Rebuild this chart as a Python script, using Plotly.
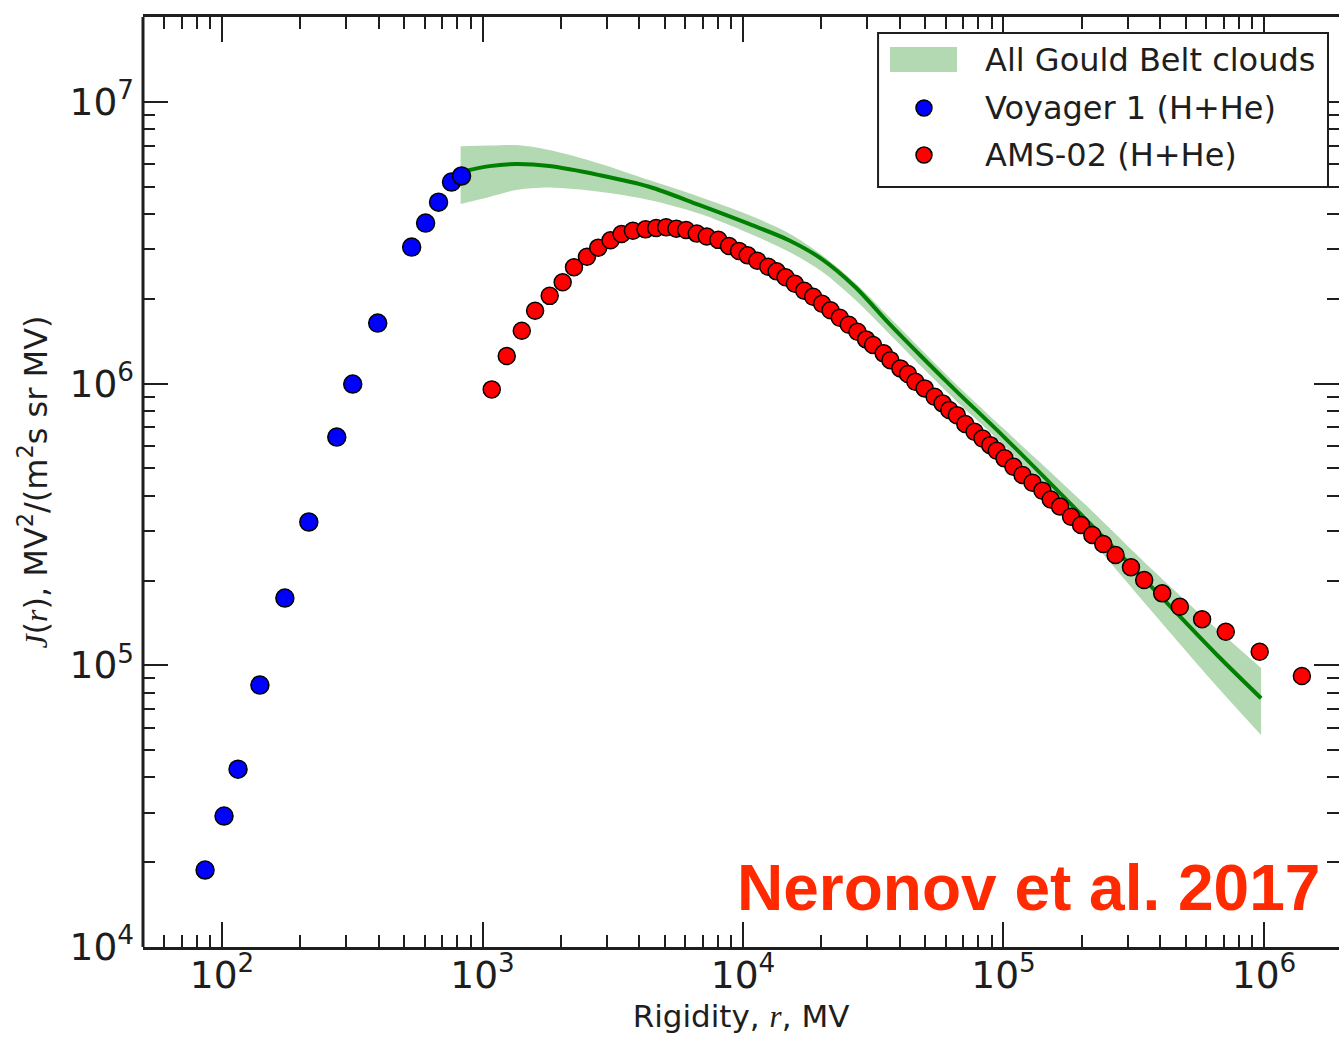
import plotly.graph_objects as go

# Voyager 1 (H+He) local interstellar spectrum
voyager_r = [86.1, 101.8, 115.2, 139.8, 174.3, 215.4, 275.8, 317.6, 396, 534.6,
             604.7, 678.1, 760.5, 830.9]
voyager_j = [1.876e4, 2.917e4, 4.28e4, 8.51e4, 1.733e5, 3.227e5, 6.46e5, 9.97e5,
             1.641e6, 3.054e6, 3.716e6, 4.41e6, 5.195e6, 5.46e6]

# AMS-02 (H+He)
ams_r = [1085, 1239, 1415, 1592, 1811, 2031, 2245, 2518, 2782, 3101, 3418, 3779,
         4224, 4642, 5070, 5551, 6047, 6646, 7259, 8042, 8839, 9654, 10420, 11350,
         12500, 13460, 14570, 15820, 17180, 18590, 20130, 21680, 23530, 25480,
         27510, 29680, 31570, 34680, 36800, 40190, 42980, 45890, 49810, 54400,
         58380, 61940, 66230, 71350, 77440, 83080, 88920, 94250, 100900, 109200,
         118300, 129200, 141100, 151800, 164900, 181700, 198500, 219300, 241600,
         269300, 308600, 346800, 406600, 475300, 578700, 713400, 962700, 1398000]
ams_j = [9.54e5, 1.253e6, 1.541e6, 1.815e6, 2.05e6, 2.29e6, 2.59e6, 2.82e6, 3.04e6,
         3.23e6, 3.40e6, 3.49e6, 3.53e6, 3.57e6, 3.59e6, 3.55e6, 3.51e6, 3.41e6,
         3.33e6, 3.24e6, 3.08e6, 2.96e6, 2.854e6, 2.731e6, 2.60e6, 2.504e6, 2.385e6,
         2.262e6, 2.136e6, 2.035e6, 1.921e6, 1.821e6, 1.714e6, 1.619e6, 1.529e6,
         1.436e6, 1.371e6, 1.281e6, 1.212e6, 1.133e6, 1.082e6, 1.016e6, 9.62e5,
         8.98e5, 8.51e5, 8.06e5, 7.73e5, 7.19e5, 6.75e5, 6.39e5, 6.05e5, 5.78e5,
         5.43e5, 5.07e5, 4.74e5, 4.45e5, 4.17e5, 3.88e5, 3.66e5, 3.37e5, 3.15e5,
         2.90e5, 2.696e5, 2.464e5, 2.228e5, 2.008e5, 1.801e5, 1.614e5, 1.457e5,
         1.316e5, 1.118e5, 9.16e4]

# Spectrum derived from all Gould Belt clouds: best fit and uncertainty band
band_r = [824, 1064, 1346, 1806, 2807, 4364, 6782, 10540, 15000, 20080, 27030,
          36260, 48520, 65280, 101500, 205600, 370100, 666400, 975000]
band_mid = [5.65e6, 5.92e6, 6.02e6, 5.92e6, 5.50e6, 5.00e6, 4.31e6, 3.69e6, 3.23e6,
            2.77e6, 2.20e6, 1.64e6, 1.246e6, 9.49e5, 6.41e5, 3.32e5, 1.90e5,
            1.079e5, 7.64e4]
band_hi = [6.97e6, 7.00e6, 7.03e6, 6.75e6, 6.05e6, 5.28e6, 4.61e6, 3.97e6, 3.42e6,
           2.86e6, 2.27e6, 1.73e6, 1.316e6, 1.002e6, 6.84e5, 3.73e5, 2.20e5,
           1.334e5, 9.78e4]
band_lo = [4.34e6, 4.60e6, 4.87e6, 4.97e6, 4.80e6, 4.49e6, 4.02e6, 3.42e6, 2.94e6,
           2.50e6, 1.98e6, 1.51e6, 1.148e6, 8.75e5, 5.97e5, 2.94e5, 1.56e5,
           8.33e4, 5.66e4]

legend_labels = ["All Gould Belt clouds", "Voyager 1 (H+He)", "AMS-02 (H+He)"]

INK = "#1e1e1e"
FONT = "DejaVu Sans"
MATH = "font-family:'Liberation Serif';font-style:italic"
BAND_FILL = "rgba(0,128,0,0.3)"
VOY_COLOR = "#0000ff"
AMS_COLOR = "#ff0000"

fig = go.Figure()

smooth = dict(shape="spline", smoothing=0.9)
fig.add_trace(go.Scatter(
    x=band_r, y=band_hi, mode="lines", line=dict(width=0, **smooth),
    hoverinfo="skip", name=legend_labels[0] + " (upper)"))
fig.add_trace(go.Scatter(
    x=band_r, y=band_lo, mode="lines", line=dict(width=0, **smooth),
    fill="tonexty", fillcolor=BAND_FILL, name=legend_labels[0]))
fig.add_trace(go.Scatter(
    x=band_r, y=band_mid, mode="lines",
    line=dict(color="#008000", width=4, **smooth), name=legend_labels[0] + " (fit)"))

marker_edge = dict(color="black", width=1.5)
fig.add_trace(go.Scatter(
    x=voyager_r, y=voyager_j, mode="markers", name=legend_labels[1],
    marker=dict(color=VOY_COLOR, size=18, line=marker_edge)))
fig.add_trace(go.Scatter(
    x=ams_r, y=ams_j, mode="markers", name=legend_labels[2],
    marker=dict(color=AMS_COLOR, size=17, line=marker_edge)))

tick_common = dict(
    type="log", dtick=1, exponentformat="power", showgrid=False, zeroline=False,
    ticks="inside", ticklen=25, tickwidth=2, tickcolor=INK,
    tickfont=dict(family=FONT, size=30, color=INK),
    minor=dict(ticks="inside", ticklen=12, tickwidth=2, tickcolor=INK,
               dtick="D1", showgrid=False),
    mirror="ticks",
)

fig.update_xaxes(
    **tick_common, range=[1.6967, 6.288], showline=True, linewidth=3, linecolor=INK,
    ticklabelstandoff=-6,
    title=dict(text=f"Rigidity, <span style=\"{MATH}\">r</span>, MV",
               font=dict(family=FONT, size=31, color=INK), standoff=10),
)
fig.update_yaxes(
    **tick_common, range=[4, 7.3017], showline=False,
    ticklabelstandoff=8,
    title=dict(text=(f"<span style=\"{MATH}\">J</span>(<span style=\"{MATH}\">r</span>), "
                     "MV<sup>2</sup>/(m<sup>2</sup>s sr MV)"),
               font=dict(family=FONT, size=32, color=INK), standoff=12),
)

# left spine (the right one sits just past the page edge)
fig.add_shape(type="line", xref="paper", yref="paper", x0=0, x1=0, y0=0, y1=1,
              line=dict(color=INK, width=3))

# key box in the upper right corner
key_x0, key_x1, key_y0, key_y1 = 0.6146, 0.9908, 0.8172, 0.9828
row_y = [0.9538, 0.9022, 0.8516]
sym_x = 0.6530
text_x = 0.7023
fig.add_shape(type="rect", xref="paper", yref="paper",
              x0=key_x0, x1=key_x1, y0=key_y0, y1=key_y1,
              line=dict(color=INK, width=2), fillcolor="white", layer="above")
fig.add_shape(type="rect", xref="paper", yref="paper",
              x0=0.6246, x1=0.6806, y0=0.9409, y1=0.9677,
              line=dict(width=0), fillcolor=BAND_FILL, layer="above")
for yy, col in zip(row_y[1:], [VOY_COLOR, AMS_COLOR]):
    fig.add_shape(type="circle", xref="paper", yref="paper",
                  xsizemode="pixel", ysizemode="pixel", xanchor=sym_x, yanchor=yy,
                  x0=-8, x1=8, y0=-8, y1=8, fillcolor=col,
                  line=dict(color="black", width=1.5), layer="above")
for yy, label in zip(row_y, legend_labels):
    fig.add_annotation(text=label, xref="paper", yref="paper", x=text_x, y=yy,
                       xanchor="left", yanchor="middle", showarrow=False,
                       font=dict(family=FONT, size=32, color=INK))

fig.add_annotation(
    text="Neronov et al. 2017", xref="paper", yref="paper", x=0.7408, y=0.0634,
    xanchor="center", yanchor="middle", showarrow=False,
    font=dict(family="Liberation Sans", size=64, color="#ff2a00", weight="bold"))

fig.update_layout(
    width=1339, height=1038,
    margin=dict(l=143, r=0, t=17, b=91),
    paper_bgcolor="white", plot_bgcolor="white",
    showlegend=False,
)

fig.write_html("out.html")
